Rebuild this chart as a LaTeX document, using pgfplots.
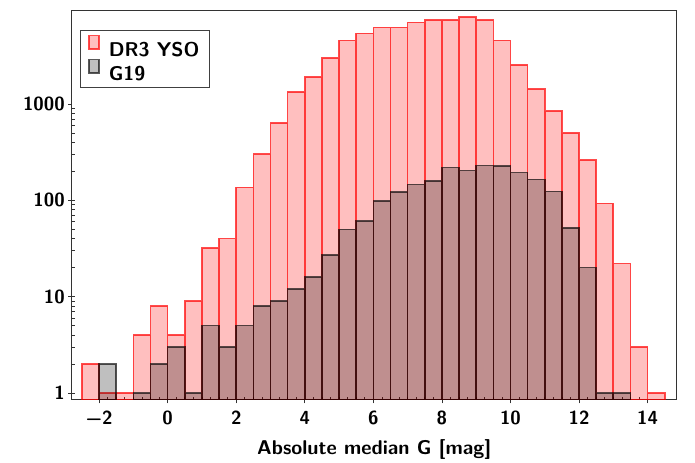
\documentclass[border=0pt]{standalone}
\usepackage{pgfplots}
\pgfplotsset{compat=1.18}
\newcommand\lab{\fontsize{19}{22}\selectfont\sffamily\bfseries}
\newcommand\labb{\fontsize{20}{24}\selectfont\sffamily\bfseries}
\pgfplotsset{rectlegend/.style={legend image code/.code={\draw[##1, line width=1.3bp] (0bp,0bp) rectangle (10bp,13.3bp);}}}
\begin{document}
\begin{tikzpicture}
\begin{axis}[
  scale only axis,
  width=605bp, height=389.3bp,
  xmin=-2.8, xmax=14.85,
  ymode=log, ymin=0.846, ymax=9310,
  log origin=infty,
  xtick={-2,0,2,4,6,8,10,12,14},
  xticklabels={−2,0,2,4,6,8,10,12,14},
  minor x tick num=7,
  ytick={1,10,100,1000},
  yticklabels={1,10,100,1000},
  xtick pos=lower, ytick pos=left,
  tick align=outside,
  major tick length=3.5bp,
  minor tick length=-3bp,
  tick style={black!80, line width=0.7bp},
  axis line style={draw=black!80, line width=1bp},
  ticklabel style={font=\lab},
  xticklabel style={yshift=-4bp},
  /pgf/number format/assume math mode=true,
  xlabel={Absolute median G [mag]},
  xlabel style={font=\labb, anchor=center, at={(axis description cs:0.5,0)}, yshift=-49.5bp},
  legend style={at={(axis description cs:0.0137,0.9517)}, anchor=north west,
    draw=black!75, line width=1bp, font=\labb, inner xsep=8bp, inner ysep=5bp,
    row sep=1bp, column sep=7bp, nodes={inner sep=2bp, text depth=0pt}},
  legend cell align=left,
]
\addplot[ybar, bar width=0.5, bar shift=0pt, fill=red, fill opacity=0.25, draw=red, draw opacity=0.7, line width=1.6bp, rectlegend]
coordinates {
(-2.25,2) (-1.75,1) (-1.25,1) (-0.75,4) (-0.25,8) (0.25,4) (0.75,9)
(1.25,32) (1.75,40) (2.25,136) (2.75,301) (3.25,638) (3.75,1330)
(4.25,1905) (4.75,3020) (5.25,4580) (5.75,5420) (6.25,6260) (6.75,6260)
(7.25,7050) (7.75,7450) (8.25,7450) (8.75,8000) (9.25,7450) (9.75,4580)
(10.25,2557) (10.75,1429) (11.25,844) (11.75,502) (12.25,261) (12.75,93)
(13.25,22) (13.75,3) (14.25,1)
};
\addlegendentry{DR3 YSO}
\addplot[ybar, bar width=0.5, bar shift=0pt, fill=black, fill opacity=0.25, draw=black, draw opacity=0.65, line width=1.6bp, rectlegend]
coordinates {
(-1.75,2) (-0.75,1) (-0.25,2) (0.25,3) (0.75,1) (1.25,5) (1.75,3)
(2.25,5) (2.75,8) (3.25,9) (3.75,12) (4.25,16) (4.75,27) (5.25,50)
(5.75,61) (6.25,99) (6.75,122) (7.25,146) (7.75,159) (8.25,219)
(8.75,204) (9.25,229) (9.75,226) (10.25,194) (10.75,165) (11.25,124)
(11.75,52) (12.25,20) (12.75,1) (13.25,1)
};
\addlegendentry{G19}
\end{axis}
\path ([xshift=-71.7bp,yshift=-59bp]current axis.south west) rectangle ([xshift=18.3bp,yshift=10.7bp]current axis.north east);
\end{tikzpicture}
\end{document}
